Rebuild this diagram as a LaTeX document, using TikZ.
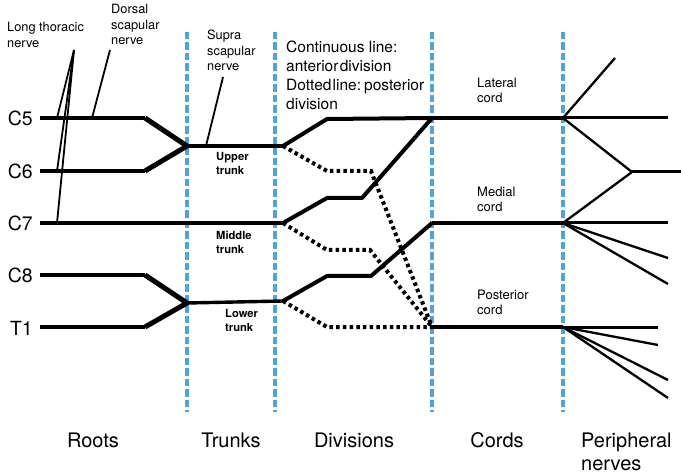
\documentclass[tikz,border=0pt]{standalone}
\usepackage{fontspec}
\setmainfont{TeX Gyre Heros}
\definecolor{zoneblue}{RGB}{78,164,214}
\newcommand{\tightsp}{\hspace{0.08em}}
\begin{document}
\begin{tikzpicture}[x=1pt,y=-1pt,
  zone/.style={zoneblue,line width=3.2pt,dash pattern=on 7.5pt off 3pt},
  root/.style={line width=4pt},
  merge/.style={line width=5pt,line join=round},
  trunkline/.style={line width=3.4pt},
  anterior/.style={line width=4pt,line join=round},
  posterior/.style={line width=4pt,dash pattern=on 3.5pt off 3.2pt},
  cordline/.style={line width=4pt},
  branch/.style={line width=2.3pt},
  nerveline/.style={line width=1.8pt},
  rootlabel/.style={font=\fontsize{19.5}{22}\selectfont,inner sep=0pt,anchor=base east},
  zonelabel/.style={font=\fontsize{20}{23}\selectfont,inner sep=0pt,anchor=base},
  smalllabel/.style={font=\fontsize{12.8}{15.5}\selectfont,inner sep=0pt,anchor=north west,align=left},
  trunklabel/.style={font=\bfseries\fontsize{11.2}{14}\selectfont,inner sep=0pt,anchor=north west,align=left},
  cordlabel/.style={font=\fontsize{13}{15}\selectfont,inner sep=0pt,anchor=north west,align=left}]
\useasboundingbox (0,0) rectangle (681,476);

% zone separators
\foreach \n/\x in {za/187,zb/275,zc/432,zd/563}{
  \coordinate (\n top) at (\x,32);
  \coordinate (\n bot) at (\x,412);
}

% roots
\coordinate (c5a) at (40,118);  \coordinate (c5b) at (145,118);
\coordinate (c6a) at (40,171);  \coordinate (c6b) at (145,171);
\coordinate (c7a) at (40,223);
\coordinate (c8a) at (40,275);  \coordinate (c8b) at (145,275);
\coordinate (t1a) at (40,327);  \coordinate (t1b) at (145,327);

% trunks
\coordinate (ut0) at (187,146); \coordinate (ut1) at (283,146);
\coordinate (mt1) at (283,223);
\coordinate (lt0) at (187,303); \coordinate (lt1) at (283,301);

% division bends
\coordinate (ua1) at (327,119);
\coordinate (ma1) at (327,198); \coordinate (ma2) at (362,198);
\coordinate (la1) at (327,276); \coordinate (la2) at (371,276);
\coordinate (up1) at (327,171); \coordinate (up2) at (371,171);
\coordinate (mp1) at (327,250); \coordinate (mp2) at (370,250);
\coordinate (lp1) at (327,327);

% cords
\coordinate (lat0) at (432,118); \coordinate (lat1) at (563,118);
\coordinate (med0) at (432,223); \coordinate (med1) at (563,223);
\coordinate (pos0) at (432,327); \coordinate (pos1) at (563,327);

% peripheral nerve ends
\coordinate (pa) at (615,58);
\coordinate (pb) at (668,118);
\coordinate (pj) at (632,172);
\coordinate (pc) at (681,172);
\coordinate (pd) at (668,223);
\coordinate (pe) at (668,258);
\coordinate (pf) at (668,284);
\coordinate (pg) at (658,327);
\coordinate (ph) at (658,345);
\coordinate (pi) at (668,380);
\coordinate (pk) at (668,398);

% small nerve branches near the roots
\coordinate (lta) at (74,50);
\coordinate (lt5) at (57,118); \coordinate (lt6) at (57,171); \coordinate (lt7) at (57,223);
\coordinate (dsa) at (110,50); \coordinate (dsb) at (92,118);
\coordinate (ssa) at (223,77); \coordinate (ssb) at (206,146);

% zone separators drawn first
\foreach \n in {za,zb,zc,zd}{ \draw[zone] (\n top) -- (\n bot); }

% roots and their merging into trunks
\draw[root] (c5a) -- (c5b);
\draw[root] (c6a) -- (c6b);
\draw[root] (c8a) -- (c8b);
\draw[root] (t1a) -- (t1b);
\draw[merge] (c5b) -- (ut0) -- (c6b);
\draw[merge] (c8b) -- (lt0) -- (t1b);
\draw[root] (c7a) -- (mt1);

% trunks
\draw[trunkline] (ut0) -- (ut1);
\draw[trunkline] (lt0) -- (lt1);

% anterior divisions
\draw[anterior] (ut1) -- (ua1) -- (lat0);
\draw[anterior] (mt1) -- (ma1) -- (ma2) -- (lat0);
\draw[anterior] (lt1) -- (la1) -- (la2) -- (med0);

% posterior divisions
\draw[posterior] (ut1) -- (up1) -- (up2) -- (pos0);
\draw[posterior] (mt1) -- (mp1) -- (mp2) -- (pos0);
\draw[posterior] (lt1) -- (lp1) -- (pos0);

% cords
\draw[cordline] (lat0) -- (lat1);
\draw[cordline] (med0) -- (med1);
\draw[cordline] (pos0) -- (pos1);

% peripheral nerves
\draw[branch] (lat1) -- (pa);
\draw[branch,line width=3pt] (lat1) -- (pb);
\draw[branch] (lat1) -- (pj);
\draw[branch] (med1) -- (pj);
\draw[branch,line width=3pt] (pj) -- (pc);
\draw[branch,line width=3pt] (med1) -- (pd);
\draw[branch] (med1) -- (pe);
\draw[branch] (med1) -- (pf);
\draw[branch,line width=3pt] (pos1) -- (pg);
\draw[branch] (pos1) -- (ph);
\draw[branch] (pos1) -- (pi);
\draw[branch] (pos1) -- (pk);

% long thoracic, dorsal scapular and suprascapular nerves
\draw[nerveline] (lta) -- (lt5);
\draw[nerveline] (lta) -- (lt6);
\draw[nerveline] (lta) -- (lt7);
\draw[nerveline] (dsa) -- (dsb);
\draw[nerveline] (ssa) -- (ssb);

% root labels
\node[rootlabel] (lc5) at (33,126) {C5};
\node[rootlabel] (lc6) at (33,179) {C6};
\node[rootlabel] (lc7) at (33,231) {C7};
\node[rootlabel] (lc8) at (33,283) {C8};
\node[rootlabel] (lt1l) at (33,335) {T1};

% nerve labels
\node[smalllabel] (ltn) at (7,22) {Long thoracic\\nerve};
\node[smalllabel] (dsn) at (111,4) {Dorsal\\scapular\\nerve};
\node[smalllabel] (ssn) at (207,30) {Supra\\scapular\\nerve};

% legend
\node[font=\fontsize{15.5}{19}\selectfont,inner sep=0pt,anchor=north west,align=left] (legend) at (286,40.5)
  {Continuous line:\\anterior\tightsp division\\Dotted\tightsp line:\hspace{0.2em}posterior\\division};

% trunk labels
\node[trunklabel] (utl) at (216,152.5) {Upper\\trunk};
\node[trunklabel] (mtl) at (216,231) {Middle\\trunk};
\node[trunklabel] (ltl) at (225,309.5) {Lower\\trunk};

% cord labels
\node[cordlabel] (latl) at (477,78) {Lateral\\cord};
\node[cordlabel] (medl) at (477,187) {Medial\\cord};
\node[cordlabel] (posl) at (477,290) {Posterior\\cord};

% zone labels
\node[zonelabel] (roots) at (93,447) {Roots};
\node[zonelabel] (trunks) at (231,447) {Trunks};
\node[zonelabel] (divs) at (354,447) {Divisions};
\node[zonelabel] (cords) at (497,447) {Cords};
\node[font=\fontsize{20}{23}\selectfont,inner sep=0pt,anchor=base west,align=left] (periph) at (581,470) {Peripheral\\nerves};
\end{tikzpicture}
\end{document}
